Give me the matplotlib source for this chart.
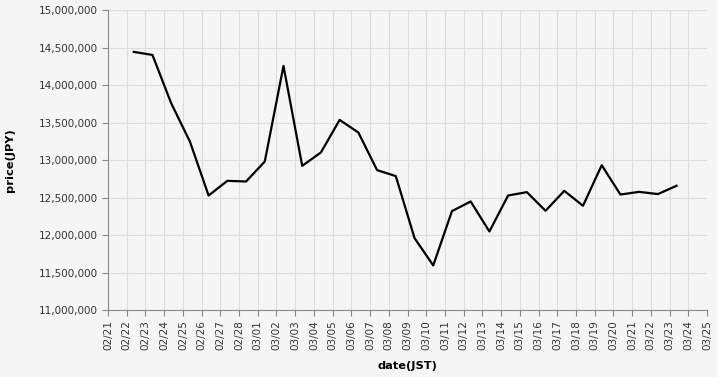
import numpy as np
import pandas as pd
import matplotlib
matplotlib.use('Agg')
import matplotlib.pyplot as plt
import matplotlib.dates as mdates
from matplotlib.ticker import FuncFormatter, MultipleLocator

# daily price, JST
dates = pd.date_range('2023-02-22 09:00', '2023-03-23 09:00', freq='D')
prices = [14445000, 14404000, 13760000, 13248000, 12528000, 12724000, 12715000,
          12981000, 14258000, 12924000, 13103000, 13537000, 13369000, 12867000,
          12787000, 11960000, 11595000, 12320000, 12448000, 12048000, 12528000,
          12573000, 12324000, 12590000, 12391000, 12933000, 12541000, 12577000,
          12547000, 12658000]

bg = '#f5f5f5'
W, H = 717, 377
fig = plt.figure(figsize=(W / 100, H / 100), dpi=100, facecolor=bg)
ax = fig.add_axes([108 / W, (H - 310) / H, (707 - 108) / W, (310 - 10.3) / H])
ax.set_facecolor(bg)

ax.plot(dates, prices, color='black', lw=1.6, zorder=3)

ax.set_xlim(pd.Timestamp('2023-02-21'), pd.Timestamp('2023-03-25'))
ax.set_ylim(11000000, 15000000)
ax.xaxis.set_major_locator(mdates.DayLocator())
ax.xaxis.set_major_formatter(mdates.DateFormatter('%m/%d'))
ax.yaxis.set_major_locator(MultipleLocator(500000))
ax.yaxis.set_major_formatter(FuncFormatter(lambda v, p: f'{int(v):,}'))

ax.grid(True, color='#dddddd', lw=0.8, zorder=0)
ax.set_axisbelow(True)
for s in ['top', 'right']:
    ax.spines[s].set_visible(False)
for s in ['left', 'bottom']:
    ax.spines[s].set_color('#888888')
    ax.spines[s].set_linewidth(0.8)

ax.tick_params(axis='both', colors='#888888', length=4, width=0.8, labelsize=7.5,
               labelcolor='#333333')
plt.setp(ax.get_xticklabels(), rotation=90)

ax.set_xlabel('date(JST)', fontsize=8.2, fontweight='bold', labelpad=8)
ax.set_ylabel('price(JPY)', fontsize=8.2, fontweight='bold', labelpad=17)

fig.savefig('out.png', dpi=100, facecolor=bg)
